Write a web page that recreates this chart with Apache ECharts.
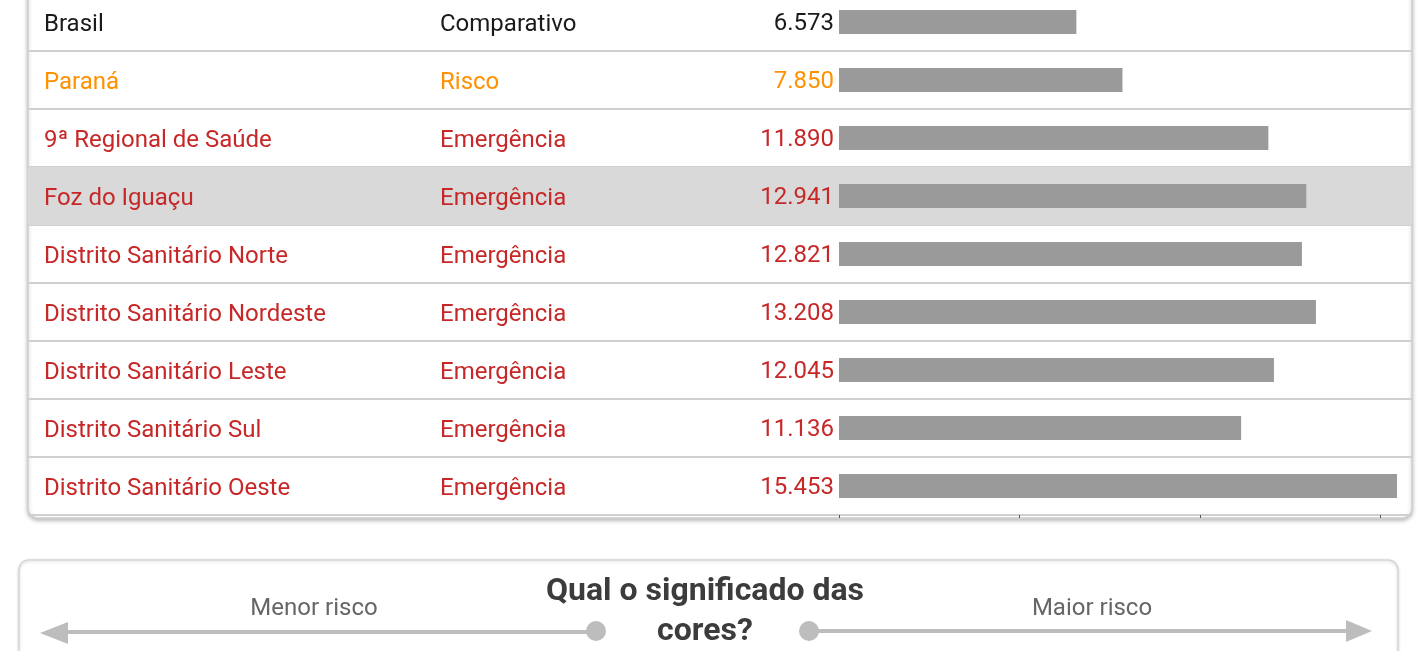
<!DOCTYPE html>
<html>
<head>
    <meta charset="utf-8">
    <title>Comparativo de risco</title>
    <script src="https://cdn.jsdelivr.net/npm/echarts@6/dist/echarts.min.js"></script>
    <style>
        html, body { margin: 0; padding: 0; background: #fff; }
        #chart { width: 1417px; height: 651px; }
    </style>
</head>
<body>
<div id="chart"></div>
<script>
    // dados da tabela
    var locais = ['Brasil', 'Paraná', '9ª Regional de Saúde', 'Foz do Iguaçu', 'Distrito Sanitário Norte',
        'Distrito Sanitário Nordeste', 'Distrito Sanitário Leste', 'Distrito Sanitário Sul', 'Distrito Sanitário Oeste'];
    var niveis = ['Comparativo', 'Risco', 'Emergência', 'Emergência', 'Emergência',
        'Emergência', 'Emergência', 'Emergência', 'Emergência'];
    var valores = [6573, 7850, 11890, 12941, 12821, 13208, 12045, 11136, 15453];
    var destaque = [0, 0, 0, 1, 0, 0, 0, 0, 0];
    var ticksX = [0, 5000, 10000, 15000];

    var corNivel = {'Comparativo': '#1a1a1a', 'Risco': '#ff9100', 'Emergência': '#c62828'};
    var chaveNivel = {'Comparativo': 'k', 'Risco': 'o', 'Emergência': 'r'};
    var fonte = 'Roboto';

    function fmt(v) {
        var r = String(v % 1000);
        while (r.length < 3) r = '0' + r;
        return Math.floor(v / 1000) + '.' + r;
    }

    var rich = {};
    Object.keys(corNivel).forEach(function (n) {
        var k = chaveNivel[n];
        rich[k + 'n'] = {color: corNivel[n], fontSize: 24, fontFamily: fonte, width: 396, align: 'left'};
        rich[k + 'c'] = {color: corNivel[n], fontSize: 24, fontFamily: fonte, align: 'left'};
    });

    var chart = echarts.init(document.getElementById('chart'), null, {renderer: 'canvas'});

    var option = {
        animation: false,
        backgroundColor: '#fff',
        graphic: [
            // cartão da tabela
            {
                type: 'rect', z: -10,
                shape: {x: 28, y: -30, width: 1384, height: 548, r: 10},
                style: {fill: '#fff', stroke: '#cfcfcf', lineWidth: 1.5,
                    shadowBlur: 4, shadowOffsetY: 2, shadowColor: 'rgba(0,0,0,0.25)'}
            },
            // cartão da legenda
            {
                type: 'rect', z: -10,
                shape: {x: 19, y: 560, width: 1379, height: 140, r: 10},
                style: {fill: '#fff', stroke: '#d6d6d6', lineWidth: 1.5,
                    shadowBlur: 3, shadowOffsetY: 1, shadowColor: 'rgba(0,0,0,0.15)'}
            },
            {
                type: 'text', z: 10,
                style: {text: 'Qual o significado das\ncores?', x: 705, y: 572, align: 'center',
                    fill: '#3c3c3c', font: 'bold 32px Roboto', lineHeight: 40}
            },
            {
                type: 'text', z: 10,
                style: {text: 'Menor risco', x: 314, y: 609, align: 'center', verticalAlign: 'middle',
                    fill: '#666', font: '24px Roboto'}
            },
            {
                type: 'text', z: 10,
                style: {text: 'Maior risco', x: 1092, y: 609, align: 'center', verticalAlign: 'middle',
                    fill: '#666', font: '24px Roboto'}
            },
            // setas
            {type: 'line', z: 5, shape: {x1: 62, y1: 632, x2: 596, y2: 632}, style: {stroke: '#bdbdbd', lineWidth: 4}},
            {type: 'polygon', z: 5, shape: {points: [[40, 633], [68, 622], [68, 644]]}, style: {fill: '#bdbdbd'}},
            {type: 'circle', z: 5, shape: {cx: 596, cy: 631, r: 10}, style: {fill: '#bdbdbd'}},
            {type: 'line', z: 5, shape: {x1: 809, y1: 631, x2: 1350, y2: 631}, style: {stroke: '#bdbdbd', lineWidth: 4}},
            {type: 'polygon', z: 5, shape: {points: [[1372, 631], [1346, 620], [1346, 642]]}, style: {fill: '#bdbdbd'}},
            {type: 'circle', z: 5, shape: {cx: 809, cy: 631, r: 10}, style: {fill: '#bdbdbd'}}
        ],
        grid: [
            {left: 839, right: 20, top: -7, height: 522, outerBoundsMode: 'none', containLabel: false},
            {left: 28, right: 5, top: -7, height: 522, outerBoundsMode: 'none', containLabel: false}
        ],
        xAxis: [
            {
                gridIndex: 0, type: 'value', min: 0, max: Math.max.apply(null, valores), interval: 5000,
                axisLine: {show: false},
                axisTick: {show: true, length: 3, customValues: ticksX, lineStyle: {color: '#555', width: 1}},
                axisLabel: {show: false},
                splitLine: {show: false}
            },
            {
                gridIndex: 1, type: 'value', min: 0, max: 1, show: false
            }
        ],
        yAxis: [
            {
                gridIndex: 0, type: 'category', inverse: true, data: locais, z: 6,
                axisLine: {show: false}, axisTick: {show: false}, splitLine: {show: false},
                axisLabel: {
                    align: 'left', margin: 795, rich: rich, padding: [5, 0, 0, 0],
                    formatter: function (v, i) {
                        var k = chaveNivel[niveis[i]];
                        return '{' + k + 'n|' + v + '}{' + k + 'c|' + niveis[i] + '}';
                    }
                }
            },
            {
                gridIndex: 1, type: 'category', inverse: true, data: locais,
                axisLine: {show: false}, axisTick: {show: false}, axisLabel: {show: false},
                splitLine: {show: true, lineStyle: {color: '#d0d0d0', width: 2}}
            }
        ],
        series: [
            {
                type: 'bar', xAxisIndex: 1, yAxisIndex: 1, z: 1,
                barWidth: '100%', silent: true,
                itemStyle: {color: '#d9d9d9'},
                data: destaque
            },
            {
                type: 'bar', xAxisIndex: 0, yAxisIndex: 0, z: 3,
                barWidth: 24,
                itemStyle: {color: '#9a9a9a'},
                label: {
                    show: true, position: 'left', distance: 5, offset: [0, 2],
                    fontSize: 24, fontFamily: fonte,
                    formatter: function (p) { return fmt(p.value); }
                },
                data: valores.map(function (v, i) {
                    return {value: v, label: {color: corNivel[niveis[i]]}};
                })
            }
        ]
    };

    chart.setOption(option);
</script>
</body>
</html>
